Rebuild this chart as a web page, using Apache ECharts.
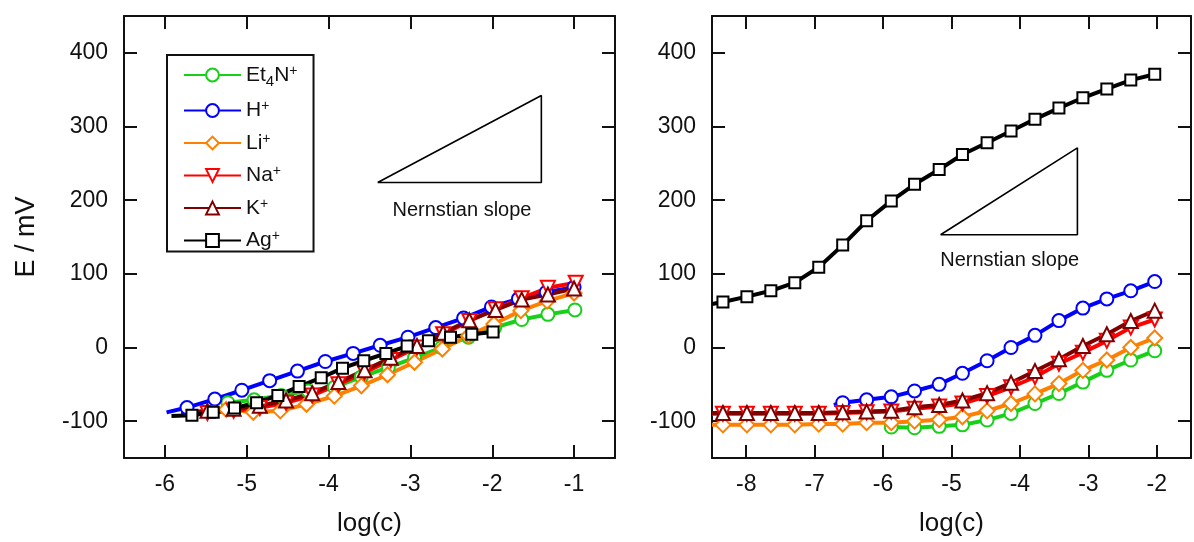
<!DOCTYPE html>
<html><head><meta charset="utf-8">
<script src="https://cdn.jsdelivr.net/npm/echarts@6/dist/echarts.min.js"></script>
<style>html,body{margin:0;padding:0;background:#fff}#c{width:1194px;height:542px}</style>
</head><body><div id="c"></div>
<script>
// ---------- DATA: left panel ----------
const L_Et4N_x = [-5.23, -4.91, -4.58, -4.25, -3.93, -3.60, -3.27, -2.95, -2.62, -2.29, -1.97, -1.64, -1.32, -0.99];
const L_Et4N_y = [-75, -71, -65, -59, -54, -40, -27, -14, 0, 14, 27, 38, 45, 51];
const L_H_lead = [-5.98, -88];
const L_H_x = [-5.73, -5.39, -5.06, -4.72, -4.38, -4.04, -3.70, -3.37, -3.03, -2.69, -2.35, -2.01, -1.68, -1.34, -1.00];
const L_H_y = [-81.5, -70, -58, -45, -32, -19, -8, 3, 14, 27, 40, 55, 66, 75, 82];
const L_Li_x = [-5.25, -4.92, -4.59, -4.27, -3.93, -3.60, -3.28, -2.95, -2.61, -2.29, -1.98, -1.65, -1.33, -1.00];
const L_Li_y = [-84, -88, -86, -77, -66, -52, -37, -20, -2, 16, 32, 50, 63, 74];
const L_Na_lead = [-5.80, -90];
const L_Na_x = [-5.48, -5.16, -4.84, -4.52, -4.20, -3.88, -3.56, -3.24, -2.92, -2.60, -2.28, -1.96, -1.64, -1.32, -0.98];
const L_Na_y = [-89, -86, -82, -75, -65, -50, -34, -17, 0, 18, 36, 52, 67, 81, 88];
const L_K_lead = [-5.80, -89];
const L_K_x = [-5.48, -5.16, -4.84, -4.52, -4.20, -3.88, -3.56, -3.24, -2.92, -2.60, -2.28, -1.96, -1.64, -1.32, -1.00];
const L_K_y = [-86, -83, -79, -72, -62, -47, -31, -14, 2, 20, 37, 51, 65, 72, 80];
const L_Ag_lead = [-5.92, -93];
const L_Ag_x = [-5.67, -5.41, -5.15, -4.88, -4.62, -4.36, -4.09, -3.83, -3.57, -3.30, -3.04, -2.78, -2.51, -2.25, -1.99];
const L_Ag_y = [-92, -88, -82, -75, -65, -53, -41, -28, -18, -8, 2, 9, 14, 18, 21];

// ---------- DATA: right panel ----------
const R_X = [-8.34, -7.99, -7.64, -7.29, -6.94, -6.59, -6.24, -5.88, -5.54, -5.18, -4.84, -4.48, -4.13, -3.78, -3.43, -3.08, -2.73, -2.38, -2.03];
const R_Et4N_x = [-5.88, -5.54, -5.18, -4.84, -4.48, -4.13, -3.78, -3.43, -3.08, -2.73, -2.38, -2.03];
const R_Et4N_y = [-108, -109, -107, -105, -98.5, -89.5, -76, -62.5, -47, -31, -17, -4.5];
const R_H_lead = [-6.72, -78];
const R_H_x = [-6.59, -6.24, -5.88, -5.54, -5.18, -4.84, -4.48, -4.13, -3.78, -3.43, -3.08, -2.73, -2.38, -2.03];
const R_H_y = [-75, -71, -67, -59, -50, -35, -18, 0, 16.5, 36.5, 53.5, 66, 77, 89.5];
const R_Li_lead = [-8.5, -105];
const R_Li_y = [-105, -105, -105, -105, -104, -104, -102, -102, -100, -98, -94, -86, -76, -63, -49, -31, -17, 0, 13];
const R_Na_lead = [-8.5, -90];
const R_Na_y = [-90, -90, -90, -90, -90, -89, -88, -87, -83, -80, -76, -66, -54, -40, -22, -7, 9, 27, 38];
const R_K_lead = [-8.5, -89];
const R_K_y = [-89, -89, -89, -89, -89, -88, -87, -86, -81, -78, -72, -62, -48, -32, -16, 2, 18, 36, 50];
const R_Ag_lead = [-8.5, 59];
const R_Ag_y = [61.7, 69, 77, 88, 109, 139, 172, 199, 221.5, 241.6, 262, 278, 294, 310, 325, 339, 351, 363, 371];

// Nernstian slope triangles (59 mV per decade)
const L_TRI_X = [-3.40, -1.40, -1.40, -3.40];
const L_TRI_Y = [224, 342, 224, 224];
const R_TRI_X = [-5.16, -3.16, -3.16, -5.16];
const R_TRI_Y = [153, 271, 153, 153];
const L_NOTE = [-2.37, 186];
const R_NOTE = [-4.15, 118];
const NOTE_TEXT = 'Nernstian slope';

// axis ranges & labels
const X_L_RANGE = [-6.5, -0.5];
const X_R_RANGE = [-8.5, -1.5];
const Y_RANGE = [-150, 450];
const X_NAME = 'log(c)';
const Y_NAME = 'E / mV';
const NAMES = ['Et4N+', 'H+', 'Li+', 'Na+', 'K+', 'Ag+'];
const LEGEND_RICH = {
  'Et4N+': '{b|Et}{sub|4}{b|N}{sup|+}', 'H+': '{b|H}{sup|+}', 'Li+': '{b|Li}{sup|+}',
  'Na+': '{b|Na}{sup|+}', 'K+': '{b|K}{sup|+}', 'Ag+': '{b|Ag}{sup|+}'
};

// ---------- STYLE ----------
const F = 'Liberation Sans, Arial, sans-serif';
const STYLE = {
  'Et4N+': {color: '#18d018', symbol: 'circle', size: 13},
  'H+':    {color: '#0000ff', symbol: 'circle', size: 13},
  'Li+':   {color: '#ff8000', symbol: 'diamond', size: 15},
  'Na+':   {color: '#ff0000', symbol: 'triangle', rotate: 180, size: 14},
  'K+':    {color: '#800000', symbol: 'triangle', size: 14},
  'Ag+':   {color: '#000000', symbol: 'rect', size: 11}
};
function zip(xs, ys) { return xs.map((x, i) => [x, ys[i]]); }
function mk(name, g, lead, xs, ys) {
  const s = STYLE[name];
  const data = [];
  if (lead) data.push({value: lead, symbol: 'none'});
  zip(xs, ys).forEach(p => data.push(p));
  return {
    type: 'line', name, xAxisIndex: g * 2, yAxisIndex: g * 2, data,
    symbol: s.symbol, symbolSize: s.size, symbolRotate: s.rotate || 0,
    showAllSymbol: true, animation: false,
    lineStyle: {color: s.color, width: 4},
    itemStyle: {color: '#fff', borderColor: s.color, borderWidth: 2},
    emphasis: {disabled: true}
  };
}
function tri(g, xs, ys) {
  return {type: 'line', xAxisIndex: g * 2, yAxisIndex: g * 2, data: zip(xs, ys),
    symbol: 'none', silent: true, animation: false,
    lineStyle: {color: '#000', width: 1.6}, z: 1};
}
const AX_LINE = {show: true, onZero: false, lineStyle: {color: '#111', width: 2}};
const AX_TICK = {show: true, inside: true, length: 13, lineStyle: {color: '#111', width: 2}};
const lab = step => ({show: true, fontFamily: F, fontSize: 23, color: '#111', margin: 15,
  formatter: v => (Math.abs(v / step - Math.round(v / step)) < 1e-9 ? String(v) : '')});
function xAxes(g, range) {
  return [
    {type: 'value', gridIndex: g, position: 'bottom', min: range[0], max: range[1], splitNumber: 6,
     axisLine: AX_LINE, axisTick: AX_TICK, splitLine: {show: false}, axisLabel: lab(1),
     name: X_NAME, nameLocation: 'middle', nameGap: 53,
     nameTextStyle: {fontFamily: F, fontSize: 26, color: '#111'}},
    {type: 'value', gridIndex: g, position: 'top', min: range[0], max: range[1], splitNumber: 6,
     axisLine: AX_LINE, axisTick: AX_TICK, splitLine: {show: false}, axisLabel: {show: false}}
  ];
}
function yAxes(g, named) {
  const a = {type: 'value', gridIndex: g, position: 'left', min: Y_RANGE[0], max: Y_RANGE[1], splitNumber: 6,
     axisLine: AX_LINE, axisTick: AX_TICK, splitLine: {show: false}, axisLabel: Object.assign(lab(100), {margin: 16})};
  if (named) Object.assign(a, {name: Y_NAME, nameLocation: 'middle', nameGap: 84,
     nameTextStyle: {fontFamily: F, fontSize: 27, color: '#111'}});
  return [a,
    {type: 'value', gridIndex: g, position: 'right', min: Y_RANGE[0], max: Y_RANGE[1], splitNumber: 6,
     axisLine: AX_LINE, axisTick: AX_TICK, splitLine: {show: false}, axisLabel: {show: false}}];
}

const chart = echarts.init(document.getElementById('c'), null, {renderer: 'canvas'});
const option = {
  backgroundColor: '#fff',
  animation: false,
  grid: [
    {left: 124, top: 16, width: 491, height: 446},
    {left: 712, top: 16, width: 492, height: 446}
  ],
  xAxis: xAxes(0, X_L_RANGE).concat(xAxes(1, X_R_RANGE)),
  yAxis: yAxes(0, true).concat(yAxes(1, false)),
  legend: {
    data: NAMES, orient: 'vertical', left: 167, top: 55,
    itemWidth: 57, itemHeight: 16, itemGap: 10.5,
    padding: [6, 16, 0, 16], borderColor: '#111', borderWidth: 2, borderRadius: 0,
    backgroundColor: '#fff', selectedMode: false,
    formatter: n => LEGEND_RICH[n],
    textStyle: {fontFamily: F, fontSize: 21, color: '#111', lineHeight: 20,
      rich: {
        b: {fontFamily: F, fontSize: 21, color: '#111', verticalAlign: 'middle', lineHeight: 20},
        sup: {fontFamily: F, fontSize: 14, color: '#111', verticalAlign: 'middle', lineHeight: 12, padding: [0, 0, 8, 0]},
        sub: {fontFamily: F, fontSize: 15, color: '#111', verticalAlign: 'middle', lineHeight: 15, padding: [13, 0, 0, 0]}
      }}
  },
  series: [
    tri(0, L_TRI_X, L_TRI_Y),
    tri(1, R_TRI_X, R_TRI_Y),
    mk('Et4N+', 0, null, L_Et4N_x, L_Et4N_y),
    mk('H+', 0, L_H_lead, L_H_x, L_H_y),
    mk('Li+', 0, null, L_Li_x, L_Li_y),
    mk('Na+', 0, L_Na_lead, L_Na_x, L_Na_y),
    mk('K+', 0, L_K_lead, L_K_x, L_K_y),
    mk('Ag+', 0, L_Ag_lead, L_Ag_x, L_Ag_y),
    mk('Et4N+', 1, null, R_Et4N_x, R_Et4N_y),
    mk('H+', 1, R_H_lead, R_H_x, R_H_y),
    mk('Li+', 1, R_Li_lead, R_X, R_Li_y),
    mk('Na+', 1, R_Na_lead, R_X, R_Na_y),
    mk('K+', 1, R_K_lead, R_X, R_K_y),
    mk('Ag+', 1, R_Ag_lead, R_X, R_Ag_y)
  ]
};
chart.setOption(option);
const pL = chart.convertToPixel({xAxisIndex: 0, yAxisIndex: 0}, L_NOTE);
const pR = chart.convertToPixel({xAxisIndex: 2, yAxisIndex: 2}, R_NOTE);
chart.setOption({graphic: [pL, pR].map(p => ({
  type: 'text', x: p[0], y: p[1], silent: true,
  style: {text: NOTE_TEXT, fontFamily: F, fontSize: 20, fill: '#111', align: 'center', verticalAlign: 'middle'}
}))});
</script></body></html>
